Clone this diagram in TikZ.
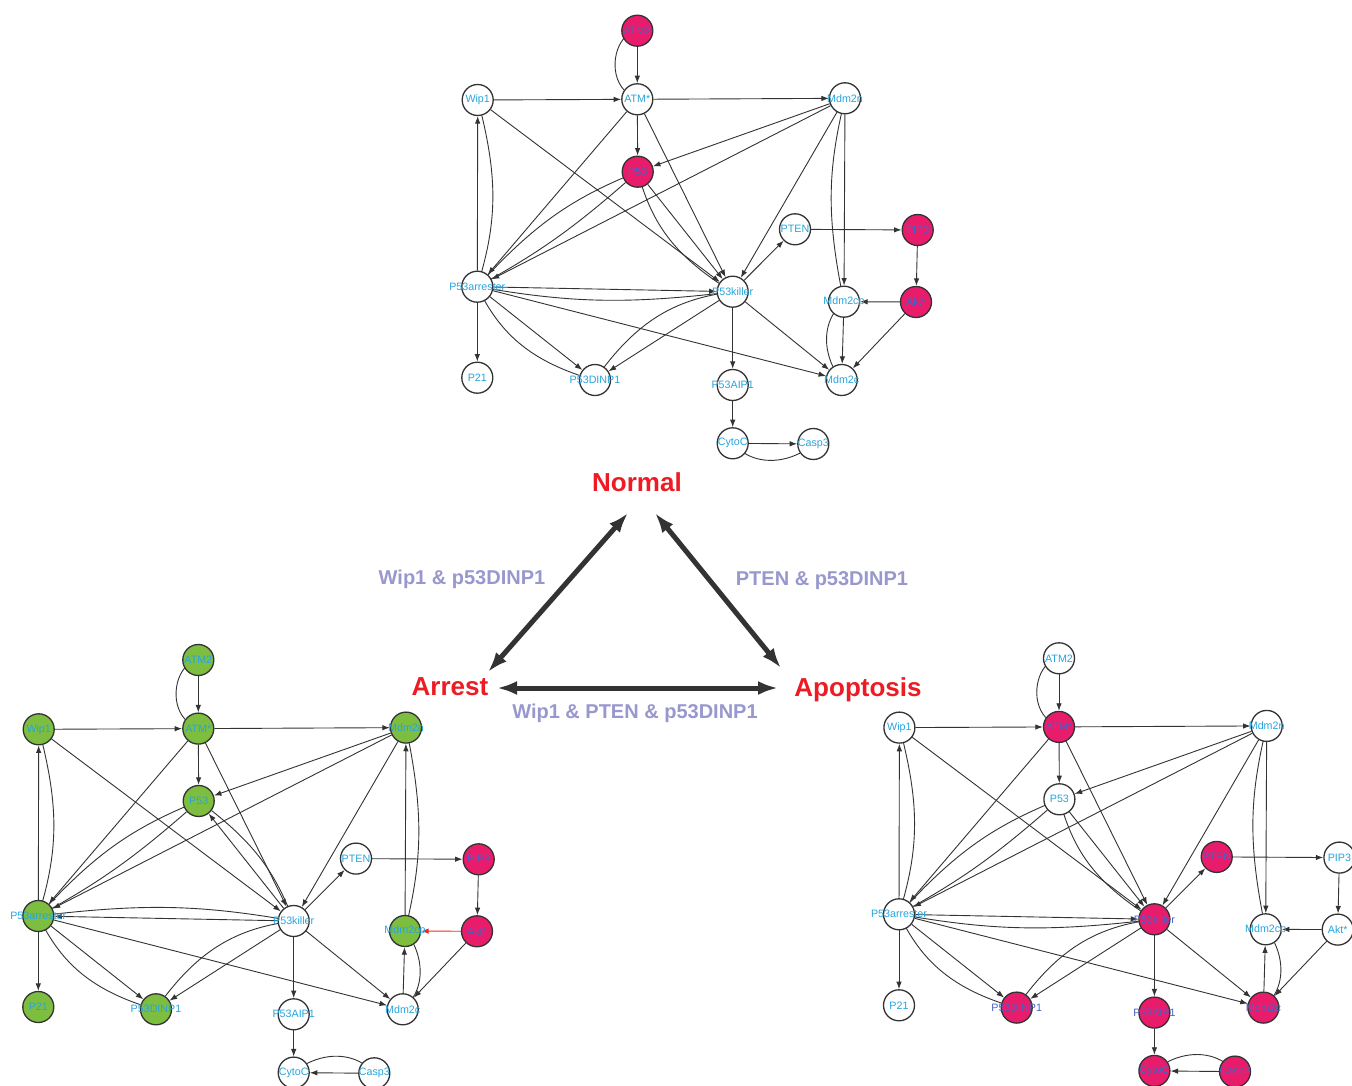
\documentclass[tikz,border=0pt]{standalone}
\usepackage{fontspec}
\setmainfont{Liberation Sans}
\usetikzlibrary{arrows.meta}
\pgfdeclarelayer{edgelayer}
\pgfsetlayers{edgelayer,main}
\definecolor{pinkc}{RGB}{233,27,107}
\definecolor{greenc}{RGB}{125,190,65}
\definecolor{txtc}{RGB}{38,165,222}
\definecolor{pinktxt}{RGB}{70,100,200}
\definecolor{edgec}{RGB}{51,51,51}
\definecolor{redc}{RGB}{237,28,36}
\definecolor{lilac}{RGB}{152,152,206}
\definecolor{redge}{RGB}{240,40,40}
\tikzset{
  nd/.style={circle, draw=edgec, line width=1.3pt, minimum size=31pt, inner sep=0pt,
    fill=white, text=txtc, font=\fontsize{10.7}{12}\selectfont},
  pk/.style={fill=pinkc, text=pinktxt},
  gr/.style={fill=greenc, text=txtc},
  ed/.style={draw=edgec, line width=0.9pt, -{Latex[length=7.5pt,width=5.5pt]}},
  bigarrow/.style={draw=edgec, line width=5pt, {Latex[length=20pt,width=14pt]}-{Latex[length=20pt,width=14pt]}},
  statelbl/.style={text=redc, font=\fontsize{26}{30}\selectfont\bfseries},
  condlbl/.style={text=lilac, font=\fontsize{20}{24}\selectfont\bfseries},
  col ATM2/.style={}, col ATMs/.style={}, col Wip1/.style={}, col Mdm2n/.style={},
  col P53/.style={}, col PTEN/.style={}, col PIP3/.style={}, col arr/.style={},
  col kil/.style={}, col Mdm2cp/.style={}, col Akt/.style={}, col P21/.style={},
  col DINP/.style={}, col AIP/.style={}, col Mdm2c/.style={}, col CytoC/.style={},
  col Casp3/.style={}
}
\newcommand\netnode[4]{\node[nd, col #1] (#1) at (#2,#3) {\makebox[0pt]{#4}};}
\newcommand\netnodes{%
  \netnode{ATM2}{637.3}{30.7}{ATM2}
  \netnode{ATMs}{637.3}{99.3}{ATM*}
  \netnode{Wip1}{477.7}{100}{Wip1}
  \netnode{Mdm2n}{845}{98.3}{Mdm2n}
  \netnode{P53}{637.7}{171.7}{P53}
  \netnode{PTEN}{795}{229.3}{PTEN}
  \netnode{PIP3}{917.7}{230}{PIP3}
  \netnode{arr}{477.3}{286.7}{P53arrester}
  \netnode{kil}{732.7}{291.7}{P53killer}
  \netnode{Mdm2cp}{844}{301.7}{Mdm2cp}
  \netnode{Akt}{916}{302}{Akt*}
  \netnode{P21}{477.3}{377.7}{P21}
  \netnode{DINP}{595}{380}{P53DINP1}
  \netnode{AIP}{732.7}{385}{P53AIP1}
  \netnode{Mdm2c}{841.7}{380}{Mdm2c}
  \netnode{CytoC}{732.7}{443.3}{CytoC}
  \netnode{Casp3}{813.3}{444}{Casp3}
}
\newcommand\netedges{%
  \draw[ed] (ATM2) -- (ATMs);
  \draw[ed] (ATMs) to[bend left=55] (ATM2);
  \draw[ed] (Wip1) -- (ATMs);
  \draw[ed] (ATMs) -- (Mdm2n);
  \draw[ed] (ATMs) -- (P53);
  \draw[ed] (ATMs) -- (arr);
  \draw[ed] (ATMs) -- (kil);
  \draw[ed] (Wip1) -- (kil);
  \draw[ed] (arr) -- (Wip1);
  \draw[ed] (Wip1) to[bend left=15] (arr);
  \draw[ed] (Mdm2n) -- (P53);
  \draw[ed] (Mdm2n) -- (arr);
  \draw[ed] (Mdm2n) -- (kil);
  \draw[ed] (arr) to[bend left=12] (P53);
  \draw[ed] (P53) to[bend left=6] (arr);
  \draw[ed] (arr) -- (DINP);
  \draw[ed] (DINP) to[bend left=22] (arr);
  \draw[ed] (arr) -- (P21);
  \draw[ed] (arr) -- (Mdm2c);
  \draw[ed] (kil) -- (DINP);
  \draw[ed] (DINP) to[bend left=22] (kil);
  \draw[ed] (kil) -- (PTEN);
  \draw[ed] (PTEN) -- (PIP3);
  \draw[ed] (PIP3) -- (Akt);
  \draw[ed] (Akt) -- (Mdm2c);
  \draw[ed] (kil) -- (Mdm2c);
  \draw[ed] (kil) -- (AIP);
  \draw[ed] (AIP) -- (CytoC);
}
\begin{document}
\begin{tikzpicture}[x=1pt, y=-1pt]
\useasboundingbox (0,0) rectangle (1352,1086);
\begin{pgfonlayer}{edgelayer}
  \fill[white] (0,0) rectangle (1352,1086);
\end{pgfonlayer}

% ---------- Normal (top) ----------
\begin{scope}[name prefix=T-, col ATM2/.style=pk, col P53/.style=pk, col PIP3/.style=pk, col Akt/.style=pk]
  \netnodes
  \begin{pgfonlayer}{edgelayer}
  \netedges
  \draw[ed] (kil) to[bend left=20] (P53);
  \draw[ed] (P53) -- (kil);
  \draw[ed] (arr) -- (kil);
  \draw[ed] (kil) to[bend left=8] (arr);
  \draw[ed] (Mdm2n) -- (Mdm2cp);
  \draw[ed] (Mdm2cp) to[bend left=12] (Mdm2n);
  \draw[ed] (Mdm2cp) -- (Mdm2c);
  \draw[ed] (Mdm2c) to[bend left=35] (Mdm2cp);
  \draw[ed] (CytoC) -- (Casp3);
  \draw[ed] (Casp3) to[bend left=35] (CytoC);
  \draw[ed] (Akt) -- (Mdm2cp);
  \end{pgfonlayer}
\end{scope}

% ---------- Arrest (bottom left) ----------
\begin{scope}[shift={(-439,629.3)}, name prefix=L-,
  col ATM2/.style=gr, col ATMs/.style=gr, col Wip1/.style=gr, col Mdm2n/.style=gr,
  col P53/.style=gr, col arr/.style=gr, col P21/.style=gr, col DINP/.style=gr,
  col Mdm2cp/.style=gr, col PIP3/.style=pk, col Akt/.style=pk]
  \netnodes
  \begin{pgfonlayer}{edgelayer}
  \netedges
  \draw[ed] (P53) to[bend left=15] (kil);
  \draw[ed] (kil) -- (P53);
  \draw[ed] (kil) -- (arr);
  \draw[ed] (arr) to[bend left=8] (kil);
  \draw[ed] (Mdm2n) to[bend left=12] (Mdm2cp);
  \draw[ed] (Mdm2cp) -- (Mdm2n);
  \draw[ed] (Mdm2cp) to[bend left=35] (Mdm2c);
  \draw[ed] (Mdm2c) -- (Mdm2cp);
  \draw[ed] (CytoC) to[bend left=35] (Casp3);
  \draw[ed] (Casp3) -- (CytoC);
  \draw[ed, color=redge] (Akt) -- (Mdm2cp);
  \end{pgfonlayer}
\end{scope}

% ---------- Apoptosis (bottom right) ----------
\begin{scope}[shift={(421.7,627.6)}, name prefix=R-,
  col ATMs/.style=pk, col PTEN/.style=pk, col kil/.style=pk, col DINP/.style=pk,
  col AIP/.style=pk, col Mdm2c/.style=pk, col CytoC/.style=pk, col Casp3/.style=pk]
  \netnodes
  \begin{pgfonlayer}{edgelayer}
  \netedges
  \draw[ed] (kil) to[bend left=20] (P53);
  \draw[ed] (P53) -- (kil);
  \draw[ed] (arr) -- (kil);
  \draw[ed] (kil) to[bend left=8] (arr);
  \draw[ed] (Mdm2n) -- (Mdm2cp);
  \draw[ed] (Mdm2cp) to[bend left=12] (Mdm2n);
  \draw[ed] (Mdm2cp) to[bend left=35] (Mdm2c);
  \draw[ed] (Mdm2c) -- (Mdm2cp);
  \draw[ed] (CytoC) to[bend left=35] (Casp3);
  \draw[ed] (Casp3) -- (CytoC);
  \draw[ed] (Akt) -- (Mdm2cp);
  \end{pgfonlayer}
\end{scope}

% ---------- state transitions ----------
\node[statelbl] (Normal) at (637,482) {Normal};
\node[statelbl] (Arrest) at (450,687) {Arrest};
\node[statelbl] (Apop) at (858,690) {Apoptosis};
\coordinate (nA) at (628,513);
\coordinate (aN) at (488,672);
\coordinate (nP) at (655,513);
\coordinate (pN) at (781,668);
\coordinate (aP) at (497,688);
\coordinate (pA) at (778,688);
\draw[bigarrow] (aN) -- (nA);
\draw[bigarrow] (nP) -- (pN);
\draw[bigarrow] (aP) -- (pA);
\node[condlbl] (c1) at (462,579) {Wip1 \& p53DINP1};
\node[condlbl] (c2) at (822,581) {PTEN \& p53DINP1};
\node[condlbl] (c3) at (635,713) {Wip1 \& PTEN \& p53DINP1};
\end{tikzpicture}
\end{document}
